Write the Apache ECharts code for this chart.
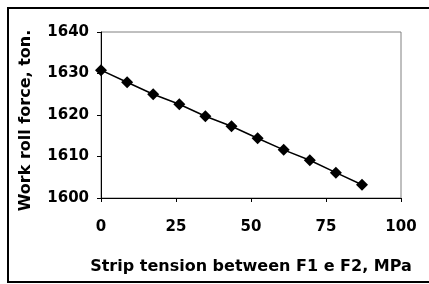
<!DOCTYPE html>
<html>
<head>
<meta charset="utf-8">
<script src="https://cdn.jsdelivr.net/npm/echarts@6/dist/echarts.min.js"></script>
<style>
  html, body { margin: 0; padding: 0; background: #fff; }
  #chart { width: 429px; height: 284px; }
</style>
</head>
<body>
<div id="chart"></div>
<script>
// strip tension (MPa) vs work roll force (ton.)
const tension = [0, 8.7, 17.4, 26.1, 34.8, 43.5, 52.2, 60.9, 69.6, 78.3, 87.0];
const force = [1630.8, 1627.9, 1625.0, 1622.6, 1619.7, 1617.3, 1614.4, 1611.6, 1609.1, 1606.1, 1603.2];

const xTitle = "Strip tension between F1 e F2, MPa";
const yTitle = "Work roll force, ton.";

const font = "'DejaVu Sans', Verdana, sans-serif";
const labelStyle = { color: "#000", fontFamily: font, fontWeight: "bold", fontSize: 15 };
const titleStyle = Object.assign({}, labelStyle, { fontSize: 16 });

const chart = echarts.init(document.getElementById("chart"), null, { renderer: "canvas" });

const option = {
  animation: false,
  backgroundColor: "#fff",
  grid: {
    left: 101,
    right: 28,
    top: 32,
    bottom: 86,
    show: true,
    borderColor: "#808080",
    borderWidth: 1
  },
  xAxis: {
    type: "value",
    min: 0,
    max: 100,
    interval: 25,
    name: xTitle,
    nameLocation: "middle",
    nameGap: 61,
    nameTextStyle: titleStyle,
    axisLine: { lineStyle: { color: "#000", width: 1 } },
    axisTick: { show: true, length: 4, lineStyle: { color: "#000" } },
    axisLabel: Object.assign({ margin: 22 }, labelStyle),
    splitLine: { show: false }
  },
  yAxis: {
    type: "value",
    min: 1600,
    max: 1640,
    interval: 10,
    name: yTitle,
    nameLocation: "middle",
    nameGap: 67,
    nameTextStyle: Object.assign({ padding: [0, 11, 0, 0] }, titleStyle),
    axisLine: { show: true, lineStyle: { color: "#000", width: 1 } },
    axisTick: { show: true, length: 4, lineStyle: { color: "#000" } },
    axisLabel: Object.assign({ margin: 12, formatter: v => String(v) }, labelStyle),
    splitLine: { show: false }
  },
  series: [
    {
      type: "line",
      data: tension.map((t, i) => [t, force[i]]),
      symbol: "diamond",
      symbolSize: 12,
      itemStyle: { color: "#000" },
      lineStyle: { color: "#000", width: 1.5 }
    }
  ],
  graphic: [
    {
      type: "rect",
      shape: { x: 8, y: 8, width: 440, height: 274 },
      style: { fill: null, stroke: "#000", lineWidth: 2 },
      silent: true
    }
  ]
};

chart.setOption(option);
</script>
</body>
</html>
